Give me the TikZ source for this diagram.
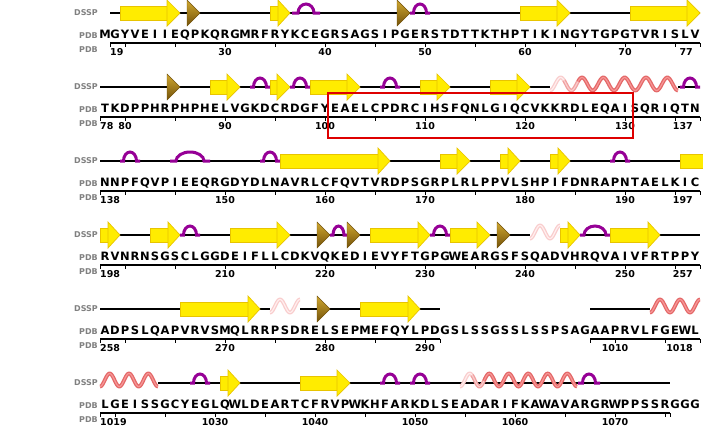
\documentclass[tikz,border=0pt]{standalone}
\usepackage{fontspec}
\setmainfont{DejaVu Sans}
\usetikzlibrary{shadings}
\definecolor{ssyel}{RGB}{255,236,0}
\definecolor{ssyelD}{RGB}{232,196,0}
\definecolor{turnc}{RGB}{150,0,150}
\definecolor{helixD}{RGB}{228,104,104}
\definecolor{helixL}{RGB}{246,150,150}
\definecolor{midD}{RGB}{240,160,160}
\definecolor{midL}{RGB}{250,205,205}
\definecolor{paleD}{RGB}{249,205,205}
\definecolor{paleL}{RGB}{255,238,238}
\definecolor{brL}{RGB}{208,168,48}
\definecolor{brD}{RGB}{115,82,10}
\definecolor{lblgray}{RGB}{128,128,128}
\definecolor{boxred}{RGB}{222,0,0}
\tikzset{
  dsspline/.style={line width=2pt, black},
  axisline/.style={line width=1.3pt, black},
  tickline/.style={line width=1pt, black},
  strandbox/.style={fill=ssyel, draw=ssyelD, line width=0.7pt},
  turnarc/.style={draw=turnc, line width=3pt},
  seqletter/.style={anchor=base, inner sep=0pt, font=\bfseries\fontsize{11.5}{12}\selectfont},
  numlabel/.style={anchor=base, inner sep=0pt, font=\bfseries\fontsize{9.5}{10}\selectfont},
  rowlabel/.style={anchor=base east, inner sep=0pt, text=lblgray, font=\bfseries\fontsize{8}{9}\selectfont},
}
\newcommand\Strand[4]{%
  \filldraw[strandbox] (#1,#4-7) rectangle (#2,#4+7);
  \filldraw[strandbox] (#2,#4-13) -- (#3,#4) -- (#2,#4+13) -- cycle;}
\newcommand\Bridge[3]{%
  \shadedraw[top color=brL, bottom color=brD, draw=brD, line width=0.4pt] (#1,#3-13) -- (#2,#3) -- (#1,#3+13) -- cycle;}
\newcommand\Turn[5]{%
  \draw[turnarc] (#1,#5) -- ({(#1+#2)/2-#3},#5) arc[start angle=180, end angle=0, x radius=#3pt, y radius=#4pt] -- (#2,#5);}
\newcommand\WaveSeg[7]{% color, width, x0, period, y, xs, xe
  \draw[#1, line width=#2] plot[domain=#6:#7, samples=90, smooth, variable=\x] (\x,{#5-3+6.5*cos(((\x-#3)/#4)*360)});}
\newcommand\HelixFull[5]{%
  \WaveSeg{helixD}{3.8pt}{#1}{#2}{#3}{#4}{#5}
  \WaveSeg{helixL}{1.2pt}{#1}{#2}{#3}{#4}{#5}}
\newcommand\HelixMid[5]{%
  \WaveSeg{midD}{3.8pt}{#1}{#2}{#3}{#4}{#5}
  \WaveSeg{midL}{1.2pt}{#1}{#2}{#3}{#4}{#5}}
\newcommand\HelixPale[5]{%
  \WaveSeg{paleD}{3.8pt}{#1}{#2}{#3}{#4}{#5}
  \WaveSeg{paleL}{1.2pt}{#1}{#2}{#3}{#4}{#5}}
\newcommand\RowText[2]{%
  \node[rowlabel, anchor=east] (dssp#1) at (98,#1) {DSSP};
  \node[rowlabel] (pdbA#1) at (98,#1+25) {PDB};
  \node[rowlabel] (pdbB#1) at (98,#1+39) {PDB};
  \foreach \c [count=\i from 0] in {#2} \node[seqletter] (s#1-\i) at ({105+10*\i},#1+25) {\c};}
\begin{document}
\begin{tikzpicture}[x=1pt,y=-1pt]
\useasboundingbox (0,0) rectangle (703,440);
\fill[white] (0,0) rectangle (703,440);

%%%%% Row 1 (d=13)
\draw[dsspline] (110,13) -- (700,13);
\Strand{120}{167}{180}{13}
\Bridge{187}{200}{13}
\Strand{270}{278}{290}{13}
\Turn{292}{320}{8}{9}{13}
\Bridge{397}{410}{13}
\Turn{410}{430}{6.5}{9}{13}
\Strand{520}{557}{570}{13}
\Strand{630}{687}{700}{13}
\RowText{13}{M,G,Y,V,E,I,I,E,Q,P,K,Q,R,G,M,R,F,R,Y,K,C,E,G,R,S,A,G,S,I,P,G,E,R,S,T,D,T,T,K,T,H,P,T,I,K,I,N,G,Y,T,G,P,G,T,V,R,I,S,L,V}
\draw[axisline] (110,43) -- (700,43);
\foreach \x in {110,700} \draw[tickline] (\x,43) -- (\x,47);
\foreach \x in {125,175,...,675} \draw[tickline] (\x,43) -- (\x,47);
\node[numlabel, anchor=base west] (n19) at (110,55.5) {19};
\node[numlabel] (n30) at (225,55.5) {30};
\node[numlabel] (n40) at (325,55.5) {40};
\node[numlabel] (n50) at (425,55.5) {50};
\node[numlabel] (n60) at (525,55.5) {60};
\node[numlabel] (n70) at (625,55.5) {70};
\node[numlabel, anchor=base east] (n77) at (693,55.5) {77};

%%%%% Row 2 (d=87)
\draw[dsspline] (100,87) -- (550,87);
\draw[dsspline] (678,87) -- (700,87);
\Bridge{167}{180}{87}
\Strand{210}{227}{240}{87}
\Turn{250}{270}{6.5}{9}{87}
\Strand{270}{277}{290}{87}
\Turn{290}{310}{6.5}{9}{87}
\Strand{310}{347}{360}{87}
\Turn{380}{400}{6.5}{9}{87}
\Strand{420}{437}{450}{87}
\Strand{490}{517}{530}{87}
\HelixPale{550}{21.33}{87}{550}{564}
\HelixMid{550}{21.33}{87}{564}{578}
\HelixFull{550}{21.33}{87}{578}{678}
\Turn{680}{700}{6.5}{9}{87}
\RowText{87}{T,K,D,P,P,H,R,P,H,P,H,E,L,V,G,K,D,C,R,D,G,F,Y,E,A,E,L,C,P,D,R,C,I,H,S,F,Q,N,L,G,I,Q,C,V,K,K,R,D,L,E,Q,A,I,S,Q,R,I,Q,T,N}
\draw[axisline] (100,117) -- (700,117);
\foreach \x in {100,700} \draw[tickline] (\x,117) -- (\x,121);
\foreach \x in {125,175,...,675} \draw[tickline] (\x,117) -- (\x,121);
\node[numlabel, anchor=base west] (n78) at (100,129.5) {78};
\node[numlabel] (n80) at (125,129.5) {80};
\node[numlabel] (n90) at (225,129.5) {90};
\node[numlabel] (n100) at (325,129.5) {100};
\node[numlabel] (n110) at (425,129.5) {110};
\node[numlabel] (n120) at (525,129.5) {120};
\node[numlabel] (n130) at (625,129.5) {130};
\node[numlabel, anchor=base east] (n137) at (693,129.5) {137};
\draw[boxred, line width=2pt] (328,93) rectangle (633,138);

%%%%% Row 3 (d=161)
\draw[dsspline] (100,161) -- (700,161);
\Turn{120}{140}{6.5}{9}{161}
\Turn{170}{210}{14}{9}{161}
\Turn{260}{280}{6.5}{9}{161}
\Strand{280}{378}{390}{161}
\Strand{440}{457}{470}{161}
\Strand{500}{508}{520}{161}
\Strand{550}{558}{570}{161}
\Turn{610}{630}{6.5}{9}{161}
\filldraw[strandbox] (680,154) rectangle (708,168);
\RowText{161}{N,N,P,F,Q,V,P,I,E,E,Q,R,G,D,Y,D,L,N,A,V,R,L,C,F,Q,V,T,V,R,D,P,S,G,R,P,L,R,L,P,P,V,L,S,H,P,I,F,D,N,R,A,P,N,T,A,E,L,K,I,C}
\draw[axisline] (100,191) -- (700,191);
\foreach \x in {100,700} \draw[tickline] (\x,191) -- (\x,195);
\foreach \x in {125,175,...,675} \draw[tickline] (\x,191) -- (\x,195);
\node[numlabel, anchor=base west] (n138) at (100,203.5) {138};
\node[numlabel] (n150) at (225,203.5) {150};
\node[numlabel] (n160) at (325,203.5) {160};
\node[numlabel] (n170) at (425,203.5) {170};
\node[numlabel] (n180) at (525,203.5) {180};
\node[numlabel] (n190) at (625,203.5) {190};
\node[numlabel, anchor=base east] (n197) at (693,203.5) {197};

%%%%% Row 4 (d=235)
\draw[dsspline] (100,235) -- (530,235);
\draw[dsspline] (560,235) -- (700,235);
\Strand{100}{108}{120}{235}
\Strand{150}{168}{180}{235}
\Turn{180}{200}{6.5}{9}{235}
\Strand{230}{277}{290}{235}
\Bridge{317}{330}{235}
\Turn{330}{347}{5.5}{9}{235}
\Bridge{347}{360}{235}
\Strand{370}{418}{430}{235}
\Turn{430}{450}{6.5}{9}{235}
\Strand{450}{477}{490}{235}
\Bridge{497}{510}{235}
\HelixPale{530}{20}{235}{530}{560}
\Strand{560}{568}{580}{235}
\Turn{580}{610}{11}{9}{235}
\Strand{610}{648}{660}{235}
\RowText{235}{R,V,N,R,N,S,G,S,C,L,G,G,D,E,I,F,L,L,C,D,K,V,Q,K,E,D,I,E,V,Y,F,T,G,P,G,W,E,A,R,G,S,F,S,Q,A,D,V,H,R,Q,V,A,I,V,F,R,T,P,P,Y}
\draw[axisline] (100,265) -- (700,265);
\foreach \x in {100,700} \draw[tickline] (\x,265) -- (\x,269);
\foreach \x in {125,175,...,675} \draw[tickline] (\x,265) -- (\x,269);
\node[numlabel, anchor=base west] (n198) at (100,277.5) {198};
\node[numlabel] (n210) at (225,277.5) {210};
\node[numlabel] (n220) at (325,277.5) {220};
\node[numlabel] (n230) at (425,277.5) {230};
\node[numlabel] (n240) at (525,277.5) {240};
\node[numlabel] (n250) at (625,277.5) {250};
\node[numlabel, anchor=base east] (n257) at (693,277.5) {257};

%%%%% Row 5 (d=309)
\draw[dsspline] (100,309) -- (270,309);
\draw[dsspline] (300,309) -- (440,309);
\draw[dsspline] (590,309) -- (650,309);
\Strand{180}{248}{260}{309}
\HelixPale{270}{20}{309}{270}{300}
\Bridge{317}{330}{309}
\Strand{360}{408}{420}{309}
\HelixFull{650}{20}{309}{650}{700}
\RowText{309}{A,D,P,S,L,Q,A,P,V,R,V,S,M,Q,L,R,R,P,S,D,R,E,L,S,E,P,M,E,F,Q,Y,L,P,D,G,S,L,S,S,G,S,S,L,S,S,P,S,A,G,A,A,P,R,V,L,F,G,E,W,L}
\draw[axisline] (100,339) -- (440,339);
\draw[axisline] (590,339) -- (700,339);
\foreach \x in {100,125,175,225,275,325,375,425,440,590,615,665,700} \draw[tickline] (\x,339) -- (\x,343);
\node[numlabel, anchor=base west] (n258) at (100,351.5) {258};
\node[numlabel] (n270) at (225,351.5) {270};
\node[numlabel] (n280) at (325,351.5) {280};
\node[numlabel] (n290) at (425,351.5) {290};
\node[numlabel] (n1010) at (615,351.5) {1010};
\node[numlabel, anchor=base east] (n1018) at (693,351.5) {1018};

%%%%% Row 6 (d=383)
\draw[dsspline] (158,383) -- (670,383);
\HelixFull{100}{19.33}{383}{100}{158}
\Turn{190}{210}{6.5}{9}{383}
\Strand{220}{228}{240}{383}
\Strand{300}{337}{350}{383}
\Turn{380}{400}{6.5}{9}{383}
\Turn{410}{430}{6.5}{9}{383}
\HelixPale{460}{19.5}{383}{460}{472}
\HelixMid{460}{19.5}{383}{472}{484}
\HelixFull{460}{19.5}{383}{484}{577}
\Turn{578}{600}{6.5}{9}{383}
\RowText{383}{L,G,E,I,S,S,G,C,Y,E,G,L,Q,W,L,D,E,A,R,T,C,F,R,V,P,W,K,H,F,A,R,K,D,L,S,E,A,D,A,R,I,F,K,A,W,A,V,A,R,G,R,W,P,P,S,S,R,G,G,G}
\draw[axisline] (100,413) -- (670,413);
\foreach \x in {100,670} \draw[tickline] (\x,413) -- (\x,417);
\foreach \x in {115,165,...,665} \draw[tickline] (\x,413) -- (\x,417);
\node[numlabel, anchor=base west] (n1019) at (100,425.5) {1019};
\node[numlabel] (n1030) at (215,425.5) {1030};
\node[numlabel] (n1040) at (315,425.5) {1040};
\node[numlabel] (n1050) at (415,425.5) {1050};
\node[numlabel] (n1060) at (515,425.5) {1060};
\node[numlabel] (n1070) at (615,425.5) {1070};
\end{tikzpicture}
\end{document}
